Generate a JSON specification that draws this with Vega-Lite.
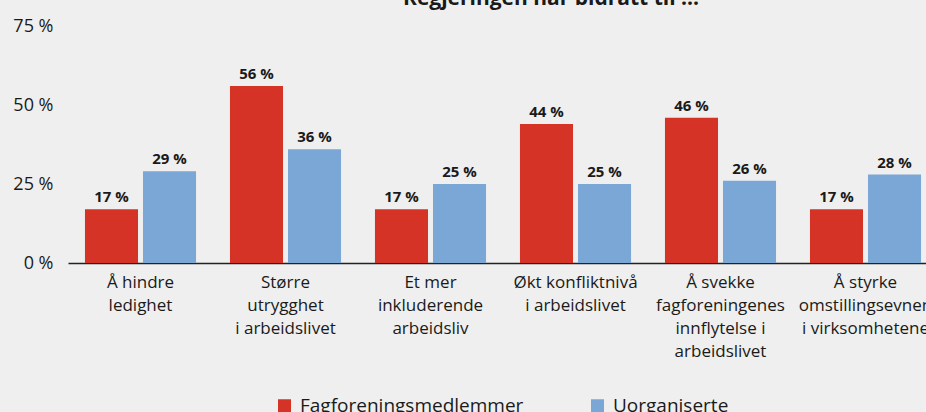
{
  "$schema": "https://vega.github.io/schema/vega-lite/v6.json",
  "autosize": {"type": "none"},
  "width": 858,
  "height": 237,
  "padding": {"left": 68, "top": 26, "right": 0, "bottom": 149},
  "background": "#efefef",
  "config": {
    "font": "Open Sans",
    "view": {"stroke": null},
    "axis": {"grid": false, "ticks": false, "labelColor": "#1a1a1a", "titleColor": "#1a1a1a"}
  },
  "title": {
    "text": "Regjeringen har bidratt til ...",
    "fontSize": 21,
    "fontWeight": "bold",
    "color": "#1a1a1a",
    "anchor": "middle",
    "dx": 54,
    "offset": 0,
    "dy": 9,
    "baseline": "alphabetic"
  },
  "data": {
    "values": [
      {"kat": "Å hindre\nledighet", "gruppe": "Fagforeningsmedlemmer", "verdi": 17},
      {"kat": "Å hindre\nledighet", "gruppe": "Uorganiserte", "verdi": 29},
      {"kat": "Større\nutrygghet\ni arbeidslivet", "gruppe": "Fagforeningsmedlemmer", "verdi": 56},
      {"kat": "Større\nutrygghet\ni arbeidslivet", "gruppe": "Uorganiserte", "verdi": 36},
      {"kat": "Et mer\ninkluderende\narbeidsliv", "gruppe": "Fagforeningsmedlemmer", "verdi": 17},
      {"kat": "Et mer\ninkluderende\narbeidsliv", "gruppe": "Uorganiserte", "verdi": 25},
      {"kat": "Økt konfliktnivå\ni arbeidslivet", "gruppe": "Fagforeningsmedlemmer", "verdi": 44},
      {"kat": "Økt konfliktnivå\ni arbeidslivet", "gruppe": "Uorganiserte", "verdi": 25},
      {"kat": "Å svekke\nfagforeningenes\ninnflytelse i\narbeidslivet", "gruppe": "Fagforeningsmedlemmer", "verdi": 46},
      {"kat": "Å svekke\nfagforeningenes\ninnflytelse i\narbeidslivet", "gruppe": "Uorganiserte", "verdi": 26},
      {"kat": "Å styrke\nomstillingsevnen\ni virksomhetene", "gruppe": "Fagforeningsmedlemmer", "verdi": 17},
      {"kat": "Å styrke\nomstillingsevnen\ni virksomhetene", "gruppe": "Uorganiserte", "verdi": 28}
    ]
  },
  "encoding": {
    "x": {
      "field": "kat",
      "type": "nominal",
      "sort": null,
      "scale": {"range": [0, 870], "paddingInner": 0.234, "paddingOuter": 0.117},
      "axis": {
        "title": null,
        "labelAngle": 0,
        "labelFontSize": 17,
        "labelLineHeight": 23,
        "labelPadding": 11,
        "labelLimit": 0,
        "labelExpr": "split(datum.label, '\\n')",
        "domainColor": "#222222",
        "domainWidth": 1.5
      }
    },
    "xOffset": {
      "field": "gruppe",
      "type": "nominal",
      "sort": ["Fagforeningsmedlemmer", "Uorganiserte"],
      "scale": {"paddingInner": 0.086, "paddingOuter": 0}
    },
    "y": {
      "field": "verdi",
      "type": "quantitative",
      "scale": {"domain": [0, 75], "nice": false},
      "axis": {
        "title": null,
        "values": [0, 25, 50, 75],
        "domain": false,
        "labelFontSize": 18,
        "labelPadding": 15,
        "labelExpr": "datum.value + ' %'"
      }
    }
  },
  "layer": [
    {
      "mark": {"type": "bar"},
      "encoding": {
        "color": {
          "field": "gruppe",
          "type": "nominal",
          "scale": {"domain": ["Fagforeningsmedlemmer", "Uorganiserte"], "range": ["#d63327", "#7ba7d6"]},
          "legend": {
            "title": null,
            "orient": "none",
            "direction": "horizontal",
            "legendX": 207,
            "legendY": 370,
            "symbolType": "square",
            "symbolSize": 169,
            "symbolStrokeWidth": 0,
            "labelFontSize": 19,
            "labelLimit": 0,
            "labelColor": "#1a1a1a",
            "labelOffset": 6,
            "columnPadding": 64
          }
        }
      }
    },
    {
      "mark": {"type": "text", "baseline": "alphabetic", "dy": -7, "fontSize": 15, "fontWeight": "bold", "color": "#1a1a1a", "text": {"expr": "datum.verdi + ' %'"}},
      "encoding": {}
    }
  ]
}
